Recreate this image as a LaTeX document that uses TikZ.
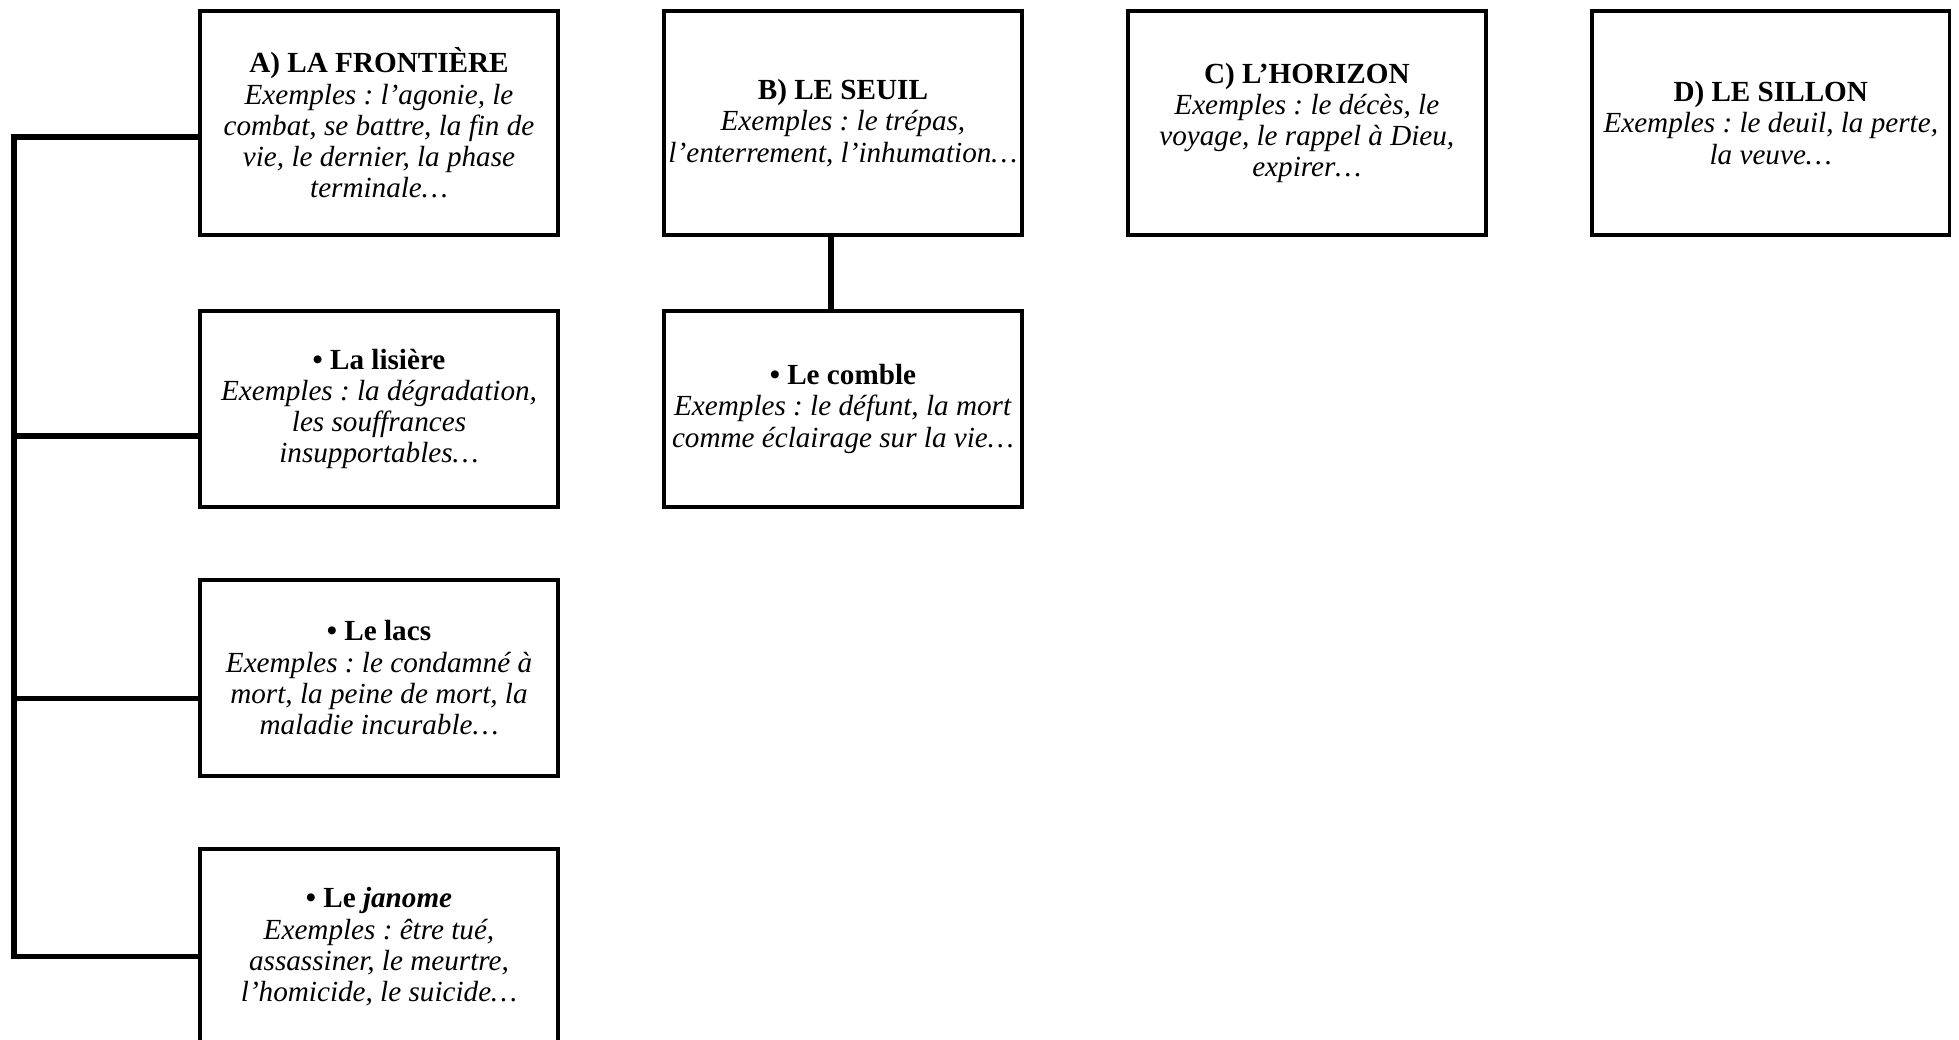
\documentclass[tikz,border=0pt]{standalone}
\usepackage{fontspec}
\setmainfont{Liberation Serif}
\usetikzlibrary{positioning}
\frenchspacing
\begin{document}
\begin{tikzpicture}[x=0.02cm, y=-0.02cm,
  boite/.style={draw=black, line width=2pt, rectangle, minimum width=7.16cm, align=center, inner sep=0pt, outer sep=0pt, font=\fontsize{16.6}{17.8}\selectfont},
  haute/.style={boite, minimum height=4.48cm},
  basse/.style={boite, minimum height=3.92cm},
  trait/.style={line width=3pt}]
\useasboundingbox (0,0) rectangle (1959,1040);
% top row
\node[haute] (a) at (379,123) {\textbf{A) LA FRONTIÈRE}\\\textit{Exemples : l’agonie, le}\\\textit{combat, se battre, la fin de}\\\textit{vie, le dernier, la phase}\\\textit{terminale…}};
\node[haute, right=2.12cm of a] (b) {\textbf{B) LE SEUIL}\\\textit{Exemples : le trépas,}\\\textit{l’enterrement, l’inhumation…}};
\node[haute, right=2.12cm of b] (c) {\textbf{C) L’HORIZON}\\\textit{Exemples : le décès, le}\\\textit{voyage, le rappel à Dieu,}\\\textit{expirer…}};
\node[haute, right=2.12cm of c] (d) {\textbf{D) LE SILLON}\\\textit{Exemples : le deuil, la perte,}\\\textit{la veuve…}};
% sub boxes
\node[basse, below=1.52cm of a] (lisiere) {\textbf{• La lisière}\\\textit{Exemples : la dégradation,}\\\textit{les souffrances}\\\textit{insupportables…}};
\node[basse, below=1.52cm of b] (comble) {\textbf{• Le comble}\\\textit{Exemples : le défunt, la mort}\\\textit{comme éclairage sur la vie…}};
\node[basse, below=1.46cm of lisiere] (lacs) {\textbf{• Le lacs}\\\textit{Exemples : le condamné à}\\\textit{mort, la peine de mort, la}\\\textit{maladie incurable…}};
\node[basse, below=1.46cm of lacs] (janome) {\textbf{• Le \textit{janome}}\\\textit{Exemples : être tué,}\\\textit{assassiner, le meurtre,}\\\textit{l’homicide, le suicide…}};
% connectors
\coordinate (bus) at (14,137);
\foreach \n/\d in {a/0.28, lisiere/0.54, lacs/0.41, janome/0.2}
  \coordinate (p\n) at ([yshift=-\d cm]\n.west);
\draw[trait, line cap=rect] (bus |- pa) -- (bus |- pjanome);
\foreach \n in {a, lisiere, lacs, janome}
  \draw[trait] (p\n) -- (bus |- p\n);
\draw[trait] ([xshift=-0.24cm]b.south) -- ([xshift=-0.24cm]comble.north);
\end{tikzpicture}
\end{document}
